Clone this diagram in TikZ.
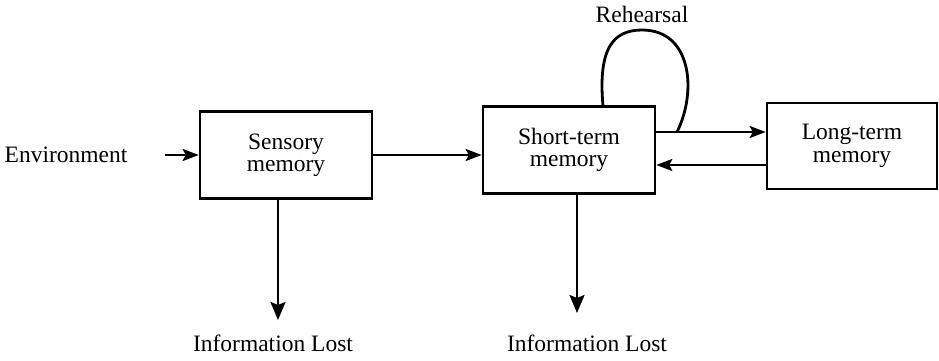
\documentclass[tikz,border=0pt]{standalone}
\usepackage{fontspec}
\setmainfont{Liberation Serif}
\usetikzlibrary{arrows.meta}
\begin{document}
\begin{tikzpicture}[x=1pt,y=-1pt,
  every node/.style={font=\fontsize{23.5}{23.5}\selectfont},
  membox/.style={draw,line width=2.6pt,minimum width=172pt,minimum height=87pt,align=center,inner sep=0pt},
  lbl/.style={inner sep=0pt},
  conn/.style={line width=2.2pt,-{Stealth[length=16pt,width=12pt,inset=3pt]}},
  downconn/.style={line width=2.4pt,-{Stealth[length=18pt,width=15pt,inset=3pt]}}]
\useasboundingbox (0,0) rectangle (939,360);
\node[lbl] (env) at (66,155) {Environment};
\node[membox] (sens) at (286,155) {Sensory\\[-1pt]memory};
\node[membox] (stm) at (569,150) {Short-term\\[-1pt]memory};
\node[membox,minimum width=170pt,minimum height=86pt] (ltm) at (852,146) {Long-term\\[-1pt]memory};
\node[lbl] (reh) at (642,14) {Rehearsal};
\node[lbl] (lost1) at (273,343) {Information Lost};
\node[lbl] (lost2) at (587,343) {Information Lost};
\coordinate (envstart) at (165,155);
\coordinate (d1) at (278,320);
\coordinate (d2) at (577,313);
\coordinate (rehstart) at (603,106);
\coordinate (rehend) at (677,132);
\draw[conn] (envstart) -- (envstart -| sens.west);
\draw[conn] (sens.east) -- (sens.east -| stm.west);
\draw[conn] ([yshift=18pt]stm.east) -- ([yshift=18pt]stm.east -| ltm.west);
\draw[conn] ([yshift=-15pt]stm.east -| ltm.west) -- ([yshift=-15pt]stm.east);
\draw[downconn] (d1 |- sens.south) -- (d1);
\draw[downconn] (d2 |- stm.south) -- (d2);
\draw[line width=2.8pt] (rehstart) .. controls (598,50) and (612,30) .. (642,30) .. controls (692,30) and (697,92) .. (rehend);
\end{tikzpicture}
\end{document}
